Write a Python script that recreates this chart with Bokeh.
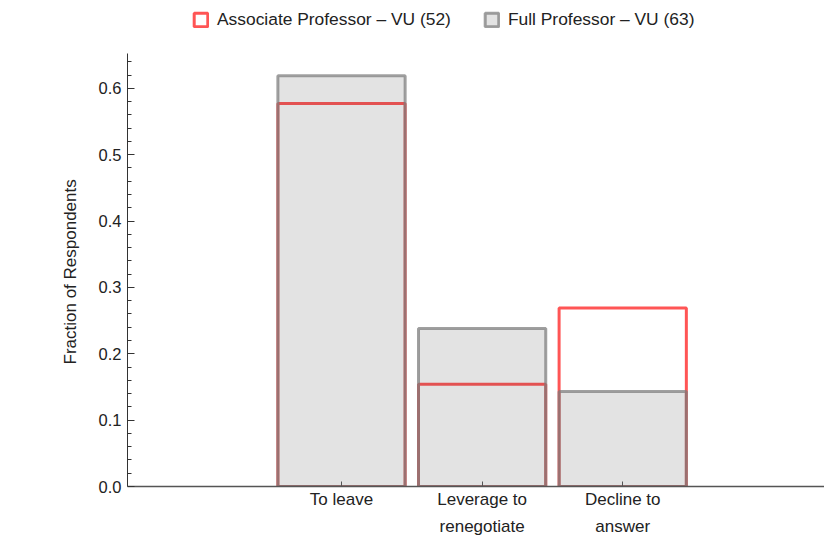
from bokeh.plotting import figure
from bokeh.models import (FixedTicker, NumeralTickFormatter, Legend, LegendItem,
                          Range1d, ColumnDataSource, Title)
from bokeh.embed import file_html
from bokeh.resources import INLINE

categories = ["To leave", "Leverage to\nrenegotiate", "Decline to\nanswer"]
positions = [1, 2, 3]
associate = [0.577, 0.154, 0.269]   # Associate Professor - VU (52)
full = [0.619, 0.238, 0.143]        # Full Professor - VU (63)
series_names = ["Associate Professor \u2013 VU (52)", "Full Professor \u2013 VU (63)"]
y_ticks = [0.0, 0.1, 0.2, 0.3, 0.4, 0.5, 0.6]
y_axis_top = 0.6526
y_label = "Fraction of Respondents"

FONT = "Liberation Sans"

p = figure(width=824, height=539, output_backend="svg", toolbar_location=None,
           x_range=Range1d(-0.522, 4.435), y_range=Range1d(0, 0.7323),
           min_border_left=127, min_border_right=0, min_border_top=0,
           min_border_bottom=52)
p.outline_line_color = None
p.xgrid.visible = False
p.ygrid.visible = False

src_a = ColumnDataSource(dict(x=positions, top=associate))
src_f = ColumnDataSource(dict(x=positions, top=full))

r_a = p.vbar(x="x", top="top", bottom=0, width=0.905, source=src_a,
             fill_color=None, line_color="#ff5555", line_width=3)
r_f = p.vbar(x="x", top="top", bottom=0, width=0.905, source=src_f,
             fill_color="#444444", fill_alpha=0.15,
             line_color="#7b7b7b", line_alpha=0.72, line_width=3)

# y axis
ya = p.yaxis[0]
minor = [round(i * 0.02, 2) for i in range(0, 33) if i % 5 != 0]
ya.ticker = FixedTicker(ticks=y_ticks, minor_ticks=minor)
ya.bounds = (0, y_axis_top)
ya.formatter = NumeralTickFormatter(format="0.0")
ya.major_tick_in = 7
ya.major_tick_out = 0
ya.minor_tick_in = 4
ya.minor_tick_out = 0
ya.major_label_standoff = 6
ya.major_label_text_font = FONT
ya.major_label_text_font_size = "16.5px"
ya.major_label_text_color = "#222222"
ya.axis_line_color = "#333333"
ya.major_tick_line_color = "#333333"
ya.minor_tick_line_color = "#333333"

# y label as a left-side title, so it can be centred on the drawn axis
ytitle = Title(text=y_label, align="left", offset=122, standoff=32,
               text_font=FONT, text_font_size="17px", text_font_style="normal",
               text_color="#222222")
p.add_layout(ytitle, "left")

# x axis
xa = p.xaxis[0]
xa.ticker = FixedTicker(ticks=positions)
xa.major_label_overrides = {pos: lab for pos, lab in zip(positions, categories)}
xa.major_tick_in = 5
xa.major_tick_out = 0
xa.minor_tick_line_color = None
xa.major_label_standoff = 3
xa.major_label_text_font = FONT
xa.major_label_text_font_size = "17px"
xa.major_label_text_color = "#222222"
xa.major_label_text_line_height = 1.45
xa.axis_line_color = "#555555"
xa.axis_line_width = 1.5
xa.major_tick_line_color = "#555555"

legend = Legend(items=[LegendItem(label=series_names[0], renderers=[r_a]),
                       LegendItem(label=series_names[1], renderers=[r_f])],
                orientation="horizontal", location=(65, 456),
                padding=0, margin=0, spacing=32, label_standoff=8,
                glyph_width=17, glyph_height=17,
                label_text_font=FONT, label_text_font_size="17.4px",
                label_text_color="#222222",
                border_line_color=None, background_fill_alpha=0)
p.add_layout(legend, "center")

open("out.html", "w").write(file_html(p, INLINE))
